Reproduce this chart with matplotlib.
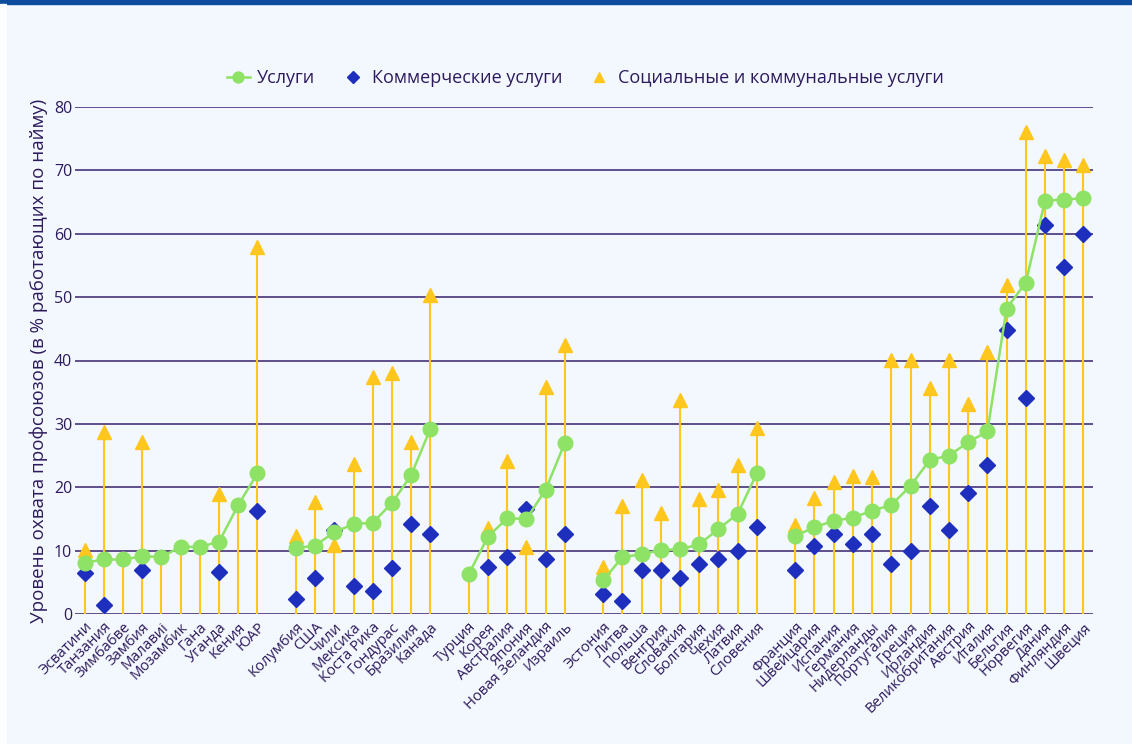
import numpy as np
import matplotlib.pyplot as plt
from matplotlib.patches import Rectangle

plt.rcParams['font.family'] = ['Open Sans', 'DejaVu Sans']

nan = np.nan

# categories ('' = empty slot between groups)
countries = ['Эсватини', 'Танзания', 'Зимбабве', 'Замбия', 'Малавиі', 'Мозамбик', 'Гана', 'Уганда', 'Кения', 'ЮАР',
             '',
             'Колумбия', 'США', 'Чили', 'Мексика', 'Коста Рика', 'Гондурас', 'Бразилия', 'Канада',
             '',
             'Турция', 'Корея', 'Австралия', 'Япония', 'Новая Зеландия', 'Израиль',
             '',
             'Эстония', 'Литва', 'Польша', 'Венгрия', 'Словакия', 'Болгария', 'Чехия', 'Латвия', 'Словения',
             '',
             'Франция', 'Швейцария', 'Испания', 'Германия', 'Нидерланды', 'Португалия', 'Греция', 'Ирландия',
             'Великобритания', 'Австрия', 'Италия', 'Бельгия', 'Норвегия', 'Дания', 'Финляндия', 'Швеция']

services = [8.1, 8.6, 8.6, 9.1, 9.0, 10.6, 10.6, 11.4, 17.2, 22.2,
            nan,
            10.4, 10.8, 12.9, 14.2, 14.4, 17.5, 21.9, 29.2,
            nan,
            6.3, 12.2, 15.1, 15.0, 19.6, 27.0,
            nan,
            5.3, 9.0, 9.4, 10.1, 10.2, 11.0, 13.4, 15.8, 22.2,
            nan,
            12.3, 13.7, 14.7, 15.2, 16.3, 17.2, 20.2, 24.3, 25.0, 27.1, 28.8, 48.2, 52.3, 65.2, 65.4, 65.6]

commercial = [6.5, 1.4, nan, 6.9, nan, nan, nan, 6.7, nan, 16.2,
              nan,
              2.3, 5.7, 13.3, 4.4, 3.6, 7.3, 14.2, 12.6,
              nan,
              nan, 7.4, 9.0, 16.6, 8.6, 12.6,
              nan,
              3.1, 2.0, 6.9, 6.9, 5.7, 7.9, 8.7, 9.9, 13.8,
              nan,
              6.9, 10.7, 12.6, 11.0, 12.7, 7.9, 9.9, 17.1, 13.3, 19.1, 23.5, 44.8, 34.1, 61.4, 54.8, 60.0]

social = [10.1, 28.7, nan, 27.2, nan, nan, nan, 18.9, nan, 57.9,
          nan,
          12.3, 17.7, 10.9, 23.6, 37.4, 38.0, 27.1, 50.4,
          nan,
          nan, 13.5, 24.1, 10.5, 35.8, 42.5,
          nan,
          7.4, 17.1, 21.2, 16.0, 33.7, 18.1, 19.5, 23.5, 29.3,
          nan,
          14.1, 18.3, 20.9, 21.8, 21.6, 40.1, 40.1, 35.7, 40.1, 33.1, 41.4, 51.9, 76.0, 72.3, 71.7, 70.8]

text_col = '#2d1a5c'
bg = '#f3f8fe'
green = '#8ee265'
blue = '#1f2fbd'
yellow = '#ffc61e'

x = np.arange(len(countries))
svc = np.array(services, dtype=float)
com = np.array(commercial, dtype=float)
soc = np.array(social, dtype=float)
top = np.where(np.isnan(soc), svc, soc)

fig = plt.figure(figsize=(11.32, 7.44), dpi=100, facecolor=bg)
ax = fig.add_axes([75 / 1132, 130 / 744, 1018 / 1132, 507 / 744])
ax.set_facecolor(bg)

# horizontal grid
for v in range(0, 81, 10):
    ax.axhline(v, color='#5e4f8c', lw=1.4, zorder=1)

# stems
ok = ~np.isnan(top)
ax.vlines(x[ok], 0, top[ok], color=yellow, lw=1.5, zorder=2)

ax.plot(x, soc, ls='none', marker='^', ms=10.5, color=yellow, mec=yellow,
        label='Социальные и коммунальные услуги', zorder=3, clip_on=False)
ax.plot(x, com, ls='none', marker='D', ms=8.5, color=blue, mec=blue,
        label='Коммерческие услуги', zorder=4, clip_on=False)
ax.plot(x, svc, ls='-', lw=1.8, marker='o', ms=10.5, color=green, mec=green,
        label='Услуги', zorder=5, clip_on=False)

ax.set_xlim(-0.5, len(countries) - 0.5)
ax.set_ylim(0, 80)
ax.set_yticks(range(0, 81, 10))
ax.set_xticks(x)
ax.set_xticklabels(countries, rotation=45, ha='right', va='top',
                   rotation_mode='anchor', fontsize=10.6, color=text_col)
ax.tick_params(axis='both', length=0, colors=text_col)
ax.tick_params(axis='y', labelsize=11.5, pad=2)
ax.tick_params(axis='x', pad=4)
for s in ax.spines.values():
    s.set_visible(False)

ax.set_ylabel('Уровень охвата профсоюзов (в % работающих по найму)',
              fontsize=13.5, color=text_col, labelpad=4)

h, l = ax.get_legend_handles_labels()
order = [2, 1, 0]
fig.legend([h[i] for i in order], [l[i] for i in order], loc='center',
           bbox_to_anchor=(0.517, 0.895), ncol=3, frameon=False,
           fontsize=13, labelcolor=text_col, handlelength=1.3,
           handletextpad=0.4, columnspacing=1.4, markerscale=0.75)

# page decorations
fig.patches.append(Rectangle((0, 1 - 4 / 744), 1, 4 / 744, transform=fig.transFigure,
                             color='#0b4c9c', zorder=10))
fig.patches.append(Rectangle((0, 0), 6 / 1132, 1 - 4 / 744, transform=fig.transFigure,
                             color='#fbfdff', zorder=10))

fig.savefig('out.png', dpi=100, facecolor=bg)
